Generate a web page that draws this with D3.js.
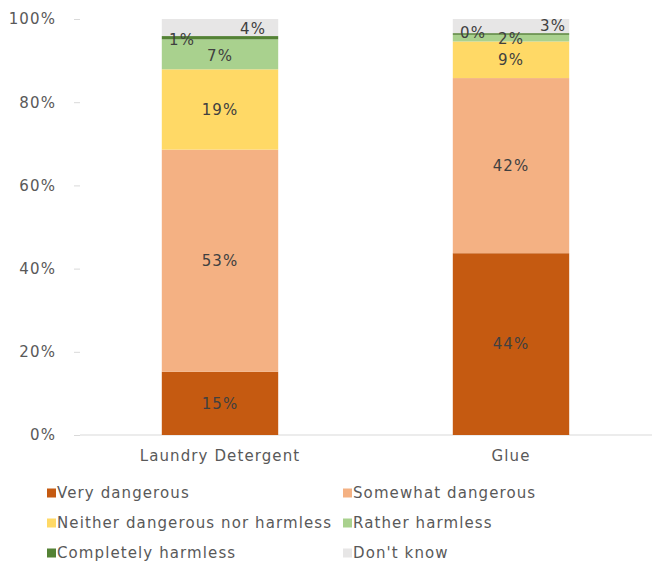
<!DOCTYPE html>
<html><head><meta charset="utf-8">
<script src="https://cdn.jsdelivr.net/npm/d3@7/dist/d3.min.js"></script>
<style>body{margin:0;background:#fff;} svg{display:block;}</style>
</head><body>
<svg id="chart" width="652" height="562"></svg>
<script>
const categories = ["Laundry Detergent", "Glue"];
const seriesNames = ["Very dangerous", "Somewhat dangerous", "Neither dangerous nor harmless", "Rather harmless", "Completely harmless", "Don't know"];
const veryDangerous = [15.2, 43.7];
const somewhatDangerous = [53.4, 42.1];
const neither = [19.3, 8.8];
const ratherHarmless = [7.2, 1.6];
const completelyHarmless = [0.8, 0.4];
const dontKnow = [4.1, 3.4];
const yTicks = [0, 20, 40, 60, 80, 100];
const colors = ["#C55A11", "#F4B183", "#FFD966", "#A9D18E", "#548235", "#E7E6E6"];

const seriesValues = [veryDangerous, somewhatDangerous, neither, ratherHarmless, completelyHarmless, dontKnow];
const rows = categories.map((c, i) => {
  const r = {cat: c};
  seriesNames.forEach((s, j) => r[s] = seriesValues[j][i]);
  return r;
});

const svg = d3.select("#chart");
const font = "'DejaVu Sans', Verdana, sans-serif";
const textColor = "#595959";
const fs = "15px";
const ls = "1.1px";

const x = d3.scaleBand().domain(categories).range([74.5, 656.5]).paddingInner(0.6).paddingOuter(0.3);
const y = d3.scaleLinear().domain([0, 100]).range([435, 19]);

const stack = d3.stack().keys(seriesNames)(rows);

// axis baseline
svg.append("line").attr("x1", 80).attr("x2", 652).attr("y1", y(0)).attr("y2", y(0))
  .attr("stroke", "#d9d9d9").attr("stroke-width", 1.2);

// y axis
const yAxis = d3.axisLeft(y).tickValues(yTicks).tickFormat(d => d + "%").tickSize(6).tickPadding(18);
const yg = svg.append("g").attr("transform", "translate(80,0)").call(yAxis);
yg.select(".domain").remove();
yg.selectAll(".tick line").attr("stroke", "#d9d9d9");
yg.selectAll(".tick text").attr("fill", textColor).style("font-family", font).style("font-size", fs).style("letter-spacing", ls);

// bars
const layers = svg.append("g").selectAll("g").data(stack).join("g")
  .attr("fill", (d, i) => colors[i]);
layers.selectAll("rect").data(d => d).join("rect")
  .attr("x", d => x(d.data.cat))
  .attr("width", x.bandwidth())
  .attr("y", d => y(d[1]))
  .attr("height", d => y(d[0]) - y(d[1]));

// label offsets (layout only): [dx, dy] per series per category
const labelOffsets = {
  "Laundry Detergent": [[0,0],[0,0],[0,0],[0,1.5],[-38,2],[33,1.5]],
  "Glue": [[0,0],[0,0],[0,0],[0,0.5],[-38,-1],[42,0]]
};
const labelG = svg.append("g");
stack.forEach((layer, si) => {
  layer.forEach(d => {
    const off = labelOffsets[d.data.cat][si];
    const v = d[1] - d[0];
    labelG.append("text")
      .attr("x", x(d.data.cat) + x.bandwidth() / 2 + off[0])
      .attr("y", y((d[0] + d[1]) / 2) + off[1])
      .attr("dy", "0.35em")
      .attr("text-anchor", "middle")
      .attr("fill", "#404040")
      .style("font-family", font)
      .style("font-size", fs).style("letter-spacing", ls)
      .text(Math.round(v) + "%");
  });
});

// category labels
const xAxis = d3.axisBottom(x).tickSize(0).tickPadding(15);
const xg = svg.append("g").attr("transform", `translate(0,${y(0)})`).call(xAxis);
xg.select(".domain").remove();
xg.selectAll(".tick text").attr("fill", textColor).style("font-family", font).style("font-size", fs).style("letter-spacing", ls);

// legend
const legendPos = [[47, 493], [343, 493], [47, 523], [343, 523], [47, 553], [343, 553]];
const lg = svg.append("g");
seriesNames.forEach((s, i) => {
  const [lx, ly] = legendPos[i];
  lg.append("rect").attr("x", lx).attr("y", ly - 4.5).attr("width", 9).attr("height", 9).attr("fill", colors[i]);
  lg.append("text").attr("x", lx + 10).attr("y", ly).attr("dy", "0.35em")
    .attr("fill", textColor).style("font-family", font).style("font-size", fs).style("letter-spacing", ls).text(s);
});
</script>
</body></html>
